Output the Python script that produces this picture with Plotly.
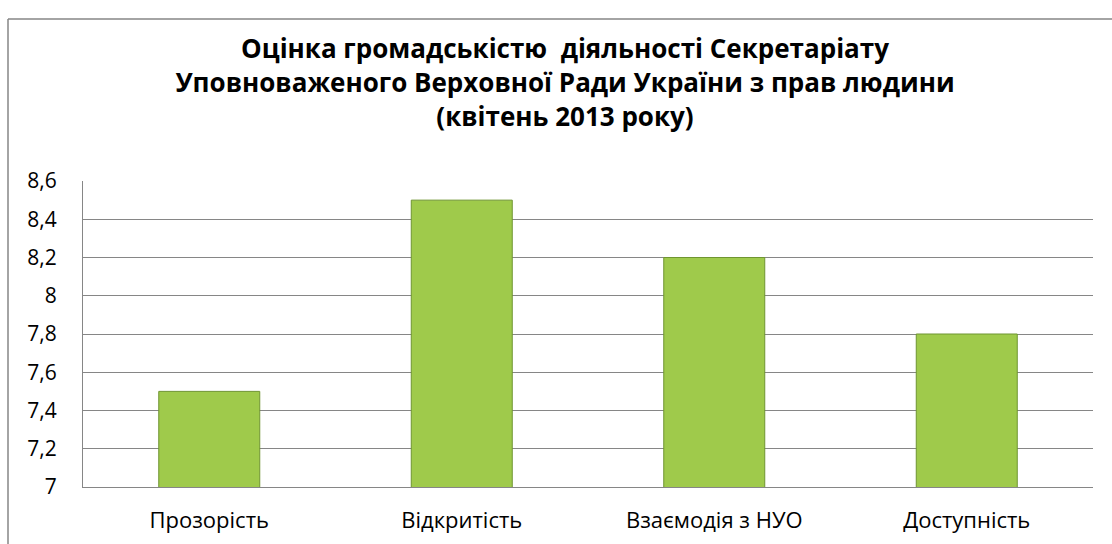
import plotly.graph_objects as go

categories = ["Прозорість", "Відкритість", "Взаємодія з НУО", "Доступність"]
values = [7.5, 8.5, 8.2, 7.8]
title_lines = [
    "Оцінка громадськістю  діяльності Секретаріату",
    "Уповноваженого Верховної Ради України з прав людини",
    "(квітень 2013 року)",
]

fig = go.Figure()
fig.add_trace(go.Bar(
    x=categories, y=values, base=0,
    marker=dict(color="#9FCA4B", line=dict(color="#6F9530", width=1)),
    hoverinfo="x+y",
))

W, H = 1112, 544
L, R, T, B = 83, 19, 181, 57
TOP = 19  # border offset from top, in pixels, as rendered

border = dict(color="#868686", width=1.5)
fig.update_layout(
    width=W, height=H,
    margin=dict(l=L, r=R, t=T, b=B, autoexpand=False),
    paper_bgcolor="white", plot_bgcolor="white",
    separators=", ",
    bargap=0.6,
    showlegend=False,
    font=dict(family="Open Sans, DejaVu Sans, sans-serif", color="#000000"),
    title=dict(
        text="<br>".join(title_lines),
        x=565 / W, xanchor="center", xref="container",
        yref="container", y=1 - 58 / H, yanchor="top",
        font=dict(size=26, color="#000000", family="Open Sans, DejaVu Sans, sans-serif", weight="bold"),
    ),
    xaxis=dict(
        showline=True, linecolor="#868686", linewidth=1,
        ticks="", tickfont=dict(size=22), showgrid=False,
        ticklabelstandoff=14,
    ),
    yaxis=dict(
        range=[7, 8.6], dtick=0.2, tick0=7,
        showline=True, linecolor="#868686", linewidth=1,
        showgrid=True, gridcolor="#868686", gridwidth=1,
        ticks="", tickfont=dict(size=21), ticklabelstandoff=21,
        zeroline=False,
    ),
    shapes=[
        dict(type="line", xref="paper", yref="paper", xsizemode="pixel", ysizemode="pixel",
             xanchor=0, yanchor=1, x0=8 - L, x1=W - L, y0=T - TOP, y1=T - TOP,
             line=border, layer="above"),
        dict(type="line", xref="paper", yref="paper", xsizemode="pixel", ysizemode="pixel",
             xanchor=0, yanchor=1, x0=8 - L, x1=8 - L, y0=T - TOP, y1=T - H,
             line=border, layer="above"),
    ],
)

fig.write_html("out.html", config={"displayModeBar": False},
               post_script="document.body.style.margin='0';document.body.style.overflow='hidden';")
